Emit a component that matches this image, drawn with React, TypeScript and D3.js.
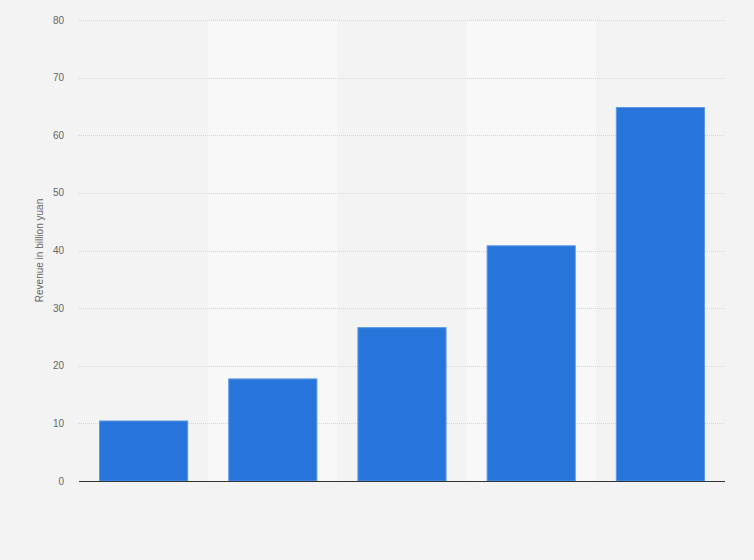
import React, { useEffect, useRef } from "react";
import * as d3 from "d3";

const categories = ["A", "B", "C", "D", "E"];
const values = [10.5, 17.8, 26.7, 40.9, 64.9];
const yTicks = [0, 10, 20, 30, 40, 50, 60, 70, 80];
const yLabel = "Revenue in billion yuan";

const W = 754;
const H = 560;
const M = { left: 79, right: 29, top: 20, bottom: 79 };

export default function App() {
  const ref = useRef<SVGSVGElement | null>(null);

  useEffect(() => {
    const svg = d3.select(ref.current);
    svg.selectAll("*").remove();

    const x = d3
      .scaleBand<string>()
      .domain(categories)
      .range([M.left, W - M.right])
      .paddingInner(0.31)
      .paddingOuter(0.155);
    const bandX = d3.scaleBand<string>().domain(categories).range([M.left, W - M.right]).padding(0);
    const y = d3.scaleLinear().domain([0, 80]).range([H - M.bottom, M.top]);

    svg.append("rect").attr("width", W).attr("height", H).attr("fill", "#f3f3f3");

    // alternating bands
    svg
      .append("g")
      .selectAll("rect")
      .data(categories.filter((_, i) => i % 2 === 1))
      .join("rect")
      .attr("x", (d) => bandX(d)!)
      .attr("y", y(80))
      .attr("width", bandX.bandwidth())
      .attr("height", y(0) - y(80))
      .attr("fill", "#f8f8f8");

    // gridlines
    svg
      .append("g")
      .selectAll("line")
      .data(yTicks.filter((t) => t > 0))
      .join("line")
      .attr("x1", M.left)
      .attr("x2", W - M.right)
      .attr("y1", (d) => Math.round(y(d)) + 0.5)
      .attr("y2", (d) => Math.round(y(d)) + 0.5)
      .attr("stroke", "#d4d4d4")
      .attr("stroke-width", 1)
      .attr("stroke-dasharray", "1,1");

    // tick labels
    svg
      .append("g")
      .selectAll("text")
      .data(yTicks)
      .join("text")
      .attr("x", 64)
      .attr("y", (d) => y(d))
      .attr("dy", "0.35em")
      .attr("text-anchor", "end")
      .attr("font-family", "Liberation Sans, Arial, sans-serif")
      .attr("font-size", 10)
      .attr("fill", "#666")
      .text((d) => String(d));

    // bars
    svg
      .append("g")
      .selectAll("rect")
      .data(values)
      .join("rect")
      .attr("x", (_, i) => x(categories[i])! + 0.5)
      .attr("y", (d) => y(d) + 0.5)
      .attr("width", x.bandwidth() - 1)
      .attr("height", (d) => y(0) - y(d) - 0.5)
      .attr("fill", "#2775db")
      .attr("stroke", "#5b97e6")
      .attr("stroke-width", 1);

    // axis line
    svg
      .append("line")
      .attr("x1", M.left)
      .attr("x2", W - M.right)
      .attr("y1", y(0) + 0.5)
      .attr("y2", y(0) + 0.5)
      .attr("stroke", "#333")
      .attr("stroke-width", 1.2);

    // y label
    svg
      .append("text")
      .attr("transform", `translate(43,${(y(0) + y(80)) / 2}) rotate(-90)`)
      .attr("text-anchor", "middle")
      .attr("font-family", "Liberation Sans, Arial, sans-serif")
      .attr("font-size", 10)
      .attr("fill", "#666")
      .text(yLabel);
  }, []);

  return (
    <div style={{ position: "fixed", left: 0, top: 0, width: W, height: H }}>
      <svg ref={ref} width={W} height={H} style={{ display: "block" }} />
    </div>
  );
}
